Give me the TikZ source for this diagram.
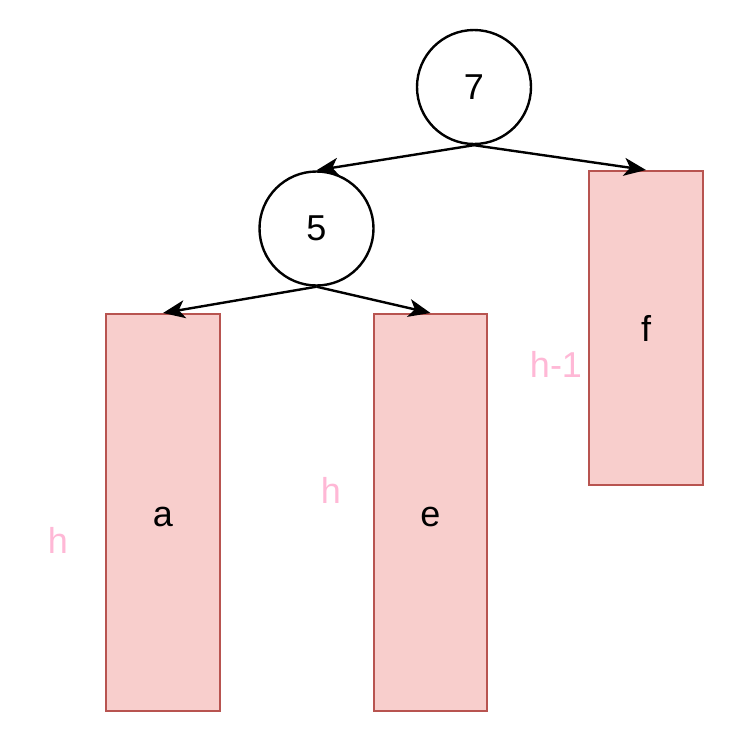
\documentclass[tikz,border=0pt]{standalone}
\usepackage{fontspec}
\setmainfont{Liberation Sans}
\usetikzlibrary{arrows.meta}
\definecolor{boxfill}{HTML}{F8CECC}
\definecolor{boxline}{HTML}{B85450}
\definecolor{lblpink}{HTML}{FFB8D6}
\tikzset{
  treenode/.style={circle,draw=black,line width=2.4pt,minimum size=114pt,inner sep=0pt,font=\fontsize{36}{42}\selectfont},
  subtree/.style={rectangle,draw=boxline,fill=boxfill,line width=2pt,inner sep=0pt,font=\fontsize{36}{42}\selectfont},
  edge/.style={line width=2.4pt,-{Stealth[length=22pt,width=18pt,inset=6pt]}},
  hlabel/.style={text=lblpink,inner sep=0pt,font=\fontsize{36}{42}\selectfont}
}
\begin{document}
\begin{tikzpicture}[x=1pt,y=-1pt]
\useasboundingbox (0,0) rectangle (738,740);
\node[treenode] (n7) at (474,87) {7};
\node[treenode] (n5) at (316.5,228.5) {5};
\node[subtree,minimum width=114pt,minimum height=314pt] (f) at (646,328) {f};
\node[subtree,minimum width=114pt,minimum height=397pt] (a) at (163,512.5) {};
\node[subtree,minimum width=113pt,minimum height=397pt] (e) at (430.5,512.5) {};
\node[inner sep=0pt,font=\fontsize{36}{42}\selectfont] (ta) at (163,517) {a};
\node[inner sep=0pt,font=\fontsize{36}{42}\selectfont] (te) at (430.5,517) {e};
\draw[edge] (n7.south) -- (n5.north);
\draw[edge] (n7.south) -- (f.north);
\draw[edge] (n5.south) -- (a.north);
\draw[edge] (n5.south) -- (e.north);
\node[hlabel] (lf) at (556,364) {h-1};
\node[hlabel] (le) at (331,490) {h};
\node[hlabel] (la) at (58,540) {h};
\end{tikzpicture}
\end{document}
